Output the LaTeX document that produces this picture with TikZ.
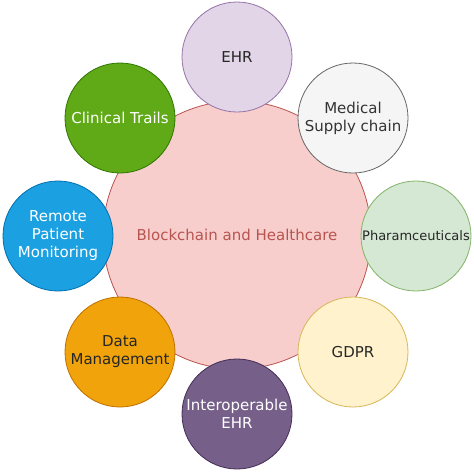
\documentclass[tikz,border=0pt]{standalone}
\usepackage{fontspec}
\setmainfont{DejaVu Sans}

\definecolor{hubfill}{HTML}{F8CECC}
\definecolor{hubline}{HTML}{B85450}
\definecolor{ehrfill}{HTML}{E1D5E7}
\definecolor{ehrline}{HTML}{9673A6}
\definecolor{supfill}{HTML}{F5F5F5}
\definecolor{supline}{HTML}{666666}
\definecolor{suptext}{HTML}{333333}
\definecolor{phafill}{HTML}{D5E8D4}
\definecolor{phaline}{HTML}{82B366}
\definecolor{gdpfill}{HTML}{FFF2CC}
\definecolor{gdpline}{HTML}{D6B656}
\definecolor{intfill}{HTML}{76608A}
\definecolor{intline}{HTML}{432D57}
\definecolor{datfill}{HTML}{F0A30A}
\definecolor{datline}{HTML}{BD7000}
\definecolor{remfill}{HTML}{1BA1E2}
\definecolor{remline}{HTML}{006EAF}
\definecolor{clifill}{HTML}{60A917}
\definecolor{cliline}{HTML}{2D7600}

\begin{document}
\begin{tikzpicture}[x=1pt,y=-1pt,line width=0.8pt,
  bubble/.style={circle,draw,minimum size=110pt,inner sep=0pt,align=center,
    font=\fontsize{15}{18}\selectfont,text=black!85}]
  \useasboundingbox (0,0) rectangle (474,474);

  % The hub: one large circle in the middle.
  \node[bubble,minimum size=268pt,fill=hubfill,draw=hubline,text=hubline] (hub) at (237,235) {Blockchain and Healthcare};

  % Eight satellites, clockwise from the top.
  \node[bubble,fill=ehrfill,draw=ehrline] (ehr) at (237,57) {EHR};
  \node[bubble,fill=supfill,draw=supline,text=suptext] (supply) at (353,118) {Medical\\Supply chain};
  \node[bubble,fill=phafill,draw=phaline,font=\fontsize{13}{16}\selectfont] (pharma) at (416,236) {Pharamceuticals};
  \node[bubble,fill=gdpfill,draw=gdpline] (gdpr) at (353,352) {GDPR};
  \node[bubble,fill=intfill,draw=intline,text=white] (inter) at (237,414) {Interoperable\\EHR};
  \node[bubble,fill=datfill,draw=datline] (data) at (120,352) {Data\\Management};
  \node[bubble,fill=remfill,draw=remline,text=white] (remote) at (58,236) {Remote\\Patient\\Monitoring};
  \node[bubble,fill=clifill,draw=cliline,text=white] (clinic) at (120,118) {Clinical Trails};
\end{tikzpicture}
\end{document}
